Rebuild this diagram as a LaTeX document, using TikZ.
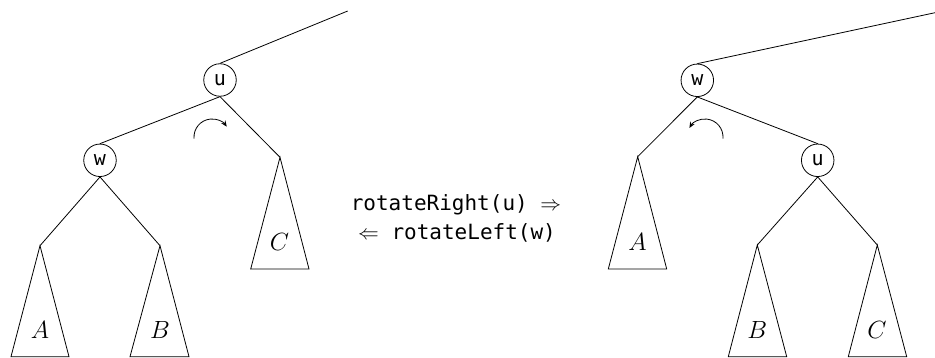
\documentclass[tikz,border=0pt]{standalone}
\usepackage{fontspec}
\setmonofont{DejaVu Sans Mono}
\usetikzlibrary{arrows.meta}
\begin{document}
\begin{tikzpicture}[x=1pt,y=-1pt,line width=0.8pt,
  vtx/.style={circle,draw,minimum size=32.5pt,inner sep=0pt,font=\fontsize{20}{24}\selectfont\ttfamily},
  sub/.style={font=\fontsize{25}{30}\selectfont},
  cmd/.style={font=\fontsize{21}{25}\selectfont\ttfamily,anchor=base},
  rot/.style={-{Stealth[length=6pt,width=5pt]}}]
\useasboundingbox (0,0) rectangle (935,358);
% left tree
\node[vtx] (lu) at (220,80) {u};
\node[vtx] (lw) at (100,160.3) {w};
\coordinate (ltop) at (347.7,11);
\coordinate (lA) at (40,245.7);
\coordinate (lB) at (160,245.7);
\coordinate (lC) at (280,157.3);
\draw (lu.north) -- (ltop);
\draw (lu.south) -- (lw.north);
\draw (lu.south) -- (lC);
\draw (lw.south) -- (lA);
\draw (lw.south) -- (lB);
\draw (lA) -- (11,356.7) -- (69,356.7) -- cycle;
\draw (lB) -- (130,356.7) -- (189,356.7) -- cycle;
\draw (lC) -- (250.7,269) -- (309,269) -- cycle;
\node[sub] (tA1) at (40,330) {$A$};
\node[sub] (tB1) at (160,330) {$B$};
\node[sub] (tC1) at (279.5,241.7) {$C$};
\draw[rot] (212,137) ++(-185:18) arc[start angle=-185,end angle=-35,radius=18];
% right tree
\node[vtx] (rw) at (697.3,80.3) {w};
\node[vtx] (ru) at (817.7,160.3) {u};
\coordinate (rtop) at (935,12.7);
\coordinate (rA) at (637.7,156.7);
\coordinate (rB) at (757.3,245);
\coordinate (rC) at (877.3,245);
\draw (rw.north) -- (rtop);
\draw (rw.south) -- (rA);
\draw (rw.south) -- (ru.north);
\draw (ru.south) -- (rB);
\draw (ru.south) -- (rC);
\draw (rA) -- (608.3,269) -- (666.7,269) -- cycle;
\draw (rB) -- (728.3,356.7) -- (786.7,356.7) -- cycle;
\draw (rC) -- (848.3,356.7) -- (906.7,356.7) -- cycle;
\node[sub] (tA2) at (637.5,241.7) {$A$};
\node[sub] (tB2) at (757.3,329.5) {$B$};
\node[sub] (tC2) at (877,329.5) {$C$};
\draw[rot] (705,137) ++(5:18) arc[start angle=5,end angle=-150,radius=18];
% labels
\node[cmd] (rr) at (456,211) {rotateRight(u) $\Rightarrow$};
\node[cmd] (rl) at (457,240) {$\Leftarrow$ rotateLeft(w)};
\end{tikzpicture}
\end{document}
